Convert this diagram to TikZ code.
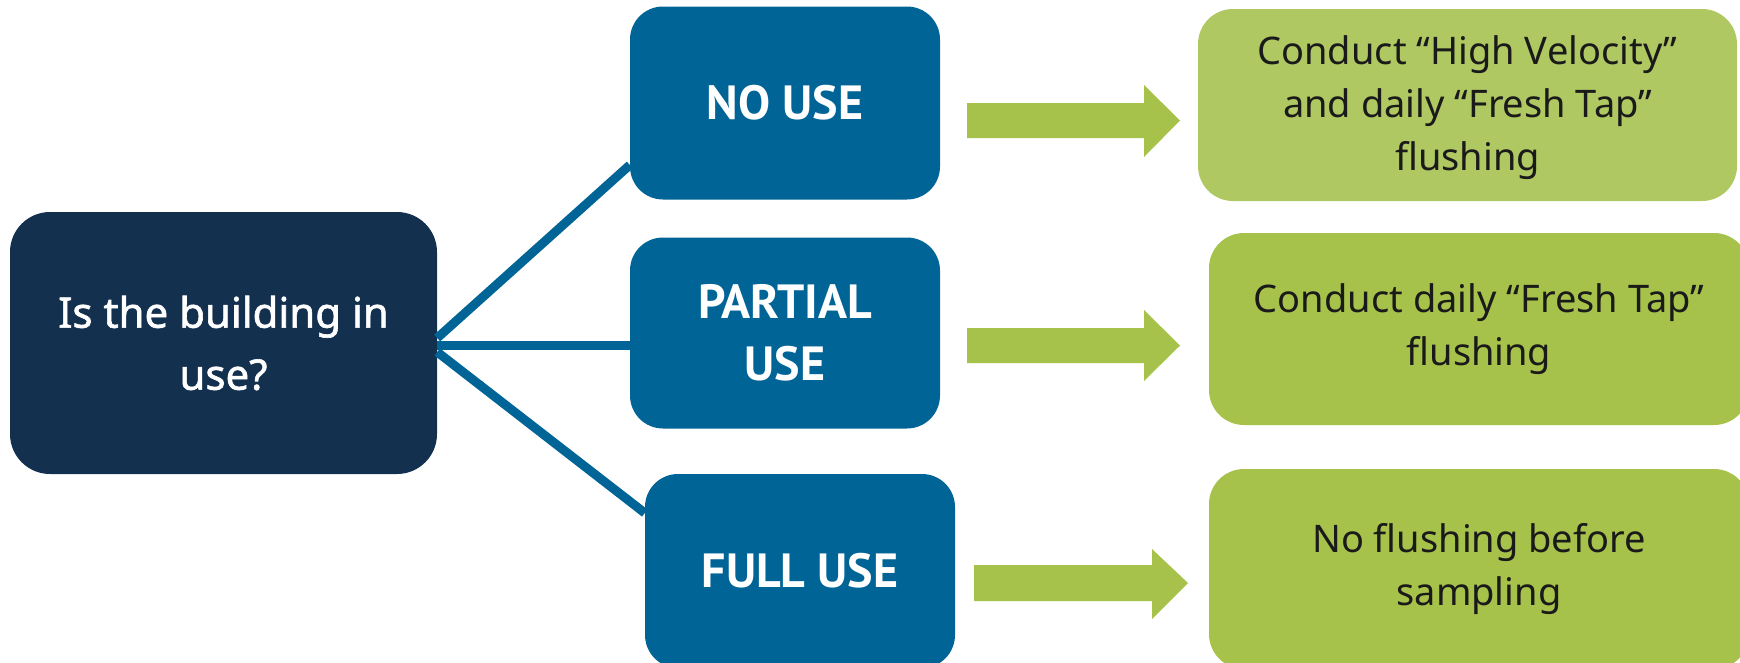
\documentclass[tikz,border=0pt]{standalone}
\usepackage{fontspec}
\setmainfont{Noto Sans}
\newfontfamily\qfont{Noto Sans}[FakeBold=1.5]
\newfontfamily\ufont{PT Sans Bold}
\usetikzlibrary{calc}
\definecolor{navy}{HTML}{14304F}
\definecolor{bblue}{HTML}{006496}
\definecolor{lgreen}{HTML}{AFC862}
\definecolor{ggreen}{HTML}{A7C24A}
\definecolor{gtext}{HTML}{1A1A1A}
\tikzset{
  qbox/.style={fill=navy, rounded corners=40pt, inner sep=0pt, text=white, align=center,
    font=\qfont\fontsize{42}{62}\selectfont},
  ubox/.style={fill=bblue, rounded corners=33pt, inner sep=0pt, text=white, align=center,
    font=\ufont\fontsize{48}{62}\selectfont, minimum width=310pt},
  abox/.style={fill=ggreen, rounded corners=35pt, inner sep=0pt, text=gtext, align=center,
    font=\fontsize{38}{53}\selectfont},
  link/.style={draw=bblue, line width=9pt},
  blockarrow/.style={fill=ggreen}
}
\begin{document}
\begin{tikzpicture}[x=1pt,y=-1pt]
\useasboundingbox (0,0) rectangle (1740,662);
\clip (0,0) rectangle (1740,662);
\node[qbox, minimum width=427pt, minimum height=262pt] (q) at (223.5,343) {Is the building in\\use?};
\node[ubox, minimum height=193pt] (no) at (785,103) {NO USE};
\node[ubox, minimum height=191pt] (pa) at (785,333) {PARTIAL\\USE};
\node[ubox, minimum height=194pt] (fu) at (800,571) {FULL USE};
\node[abox, fill=lgreen, minimum width=539pt, minimum height=192pt] (g1) at (1467.5,105) {};
\node[font=\fontsize{38}{53}\selectfont, text=gtext, align=center, inner sep=0pt] (t1) at (1467.5,108) {Conduct “High Velocity”\\and daily “Fresh Tap”\\flushing};
\node[abox, minimum width=540pt, minimum height=192pt] (g2) at (1479,329) {Conduct daily “Fresh Tap”\\flushing};
\node[abox, minimum width=540pt, minimum height=200pt] (g3) at (1479,569) {No flushing before\\sampling};
\draw[link] ([yshift=5pt]q.east) -- ([yshift=-62pt]no.west);
\draw[link] ([yshift=-2pt]q.east) -- ([yshift=-12pt]pa.west);
\draw[link] ([yshift=-9pt]q.east) -- ([yshift=58pt]fu.west);
% block arrows
\fill[blockarrow] (967,103) -- (1144,103) -- (1144,85) -- (1180,120.5) -- (1144,157) -- (1144,138) -- (967,138) -- cycle;
\fill[blockarrow] (967,328) -- (1144,328) -- (1144,310) -- (1180,345.5) -- (1144,381) -- (1144,363) -- (967,363) -- cycle;
\fill[blockarrow] (974,565) -- (1152,565) -- (1152,549) -- (1188,583) -- (1152,619) -- (1152,601) -- (974,601) -- cycle;
\end{tikzpicture}
\end{document}
